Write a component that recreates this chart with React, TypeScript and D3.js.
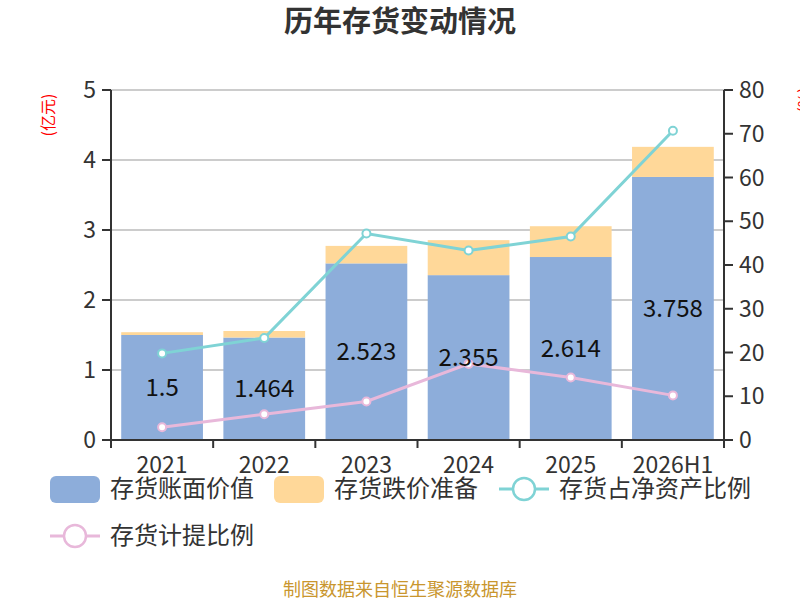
import React from "react";
import * as d3 from "d3";

const categories = ["2021", "2022", "2023", "2024", "2025", "2026H1"];
const bookValue = [1.5, 1.464, 2.523, 2.355, 2.614, 3.758];
const provision = [0.04, 0.093, 0.25, 0.5, 0.44, 0.43];
const netAssetRatio = [19.8, 23.3, 47.2, 43.3, 46.5, 70.7];
const provisionRatio = [2.9, 5.9, 8.8, 17.4, 14.3, 10.2];
const leftTicks = [0, 1, 2, 3, 4, 5];
const rightTicks = [0, 10, 20, 30, 40, 50, 60, 70, 80];

const FONT = "'Noto Sans CJK SC', 'Noto Sans', sans-serif";
const BLUE = "#8dadda";
const ORANGE = "#ffd899";
const TEAL = "#7fd3d5";
const PINK = "#e8b8da";
const TXT = "#333";

export default function App() {
  const W = 800, H = 600;
  const L = 111, R = 724, T = 90, B = 440;
  const x = d3.scaleBand<string>().domain(categories).range([L, R]).paddingInner(0.2).paddingOuter(0.1);
  const xc = (c: string) => (x(c) as number) + x.bandwidth() / 2;
  const band = (R - L) / categories.length;
  const yL = d3.scaleLinear().domain([0, 5]).range([B, T]);
  const yR = d3.scaleLinear().domain([0, 80]).range([B, T]);
  const lineGen = (vals: number[]) =>
    d3.line<number>().x((_, i) => xc(categories[i])).y((v) => yR(v))(vals) as string;

  return (
    <svg width={W} height={H} style={{ display: "block", position: "absolute", left: 0, top: 0 }} fontFamily={FONT}>
      <rect width={W} height={H} fill="#fff" />
      <text x={400} y={22} dy="0.35em" textAnchor="middle" fontSize={29} fontWeight="bold" fill={TXT}>历年存货变动情况</text>

      {/* grid */}
      {leftTicks.filter((t) => t > 0).map((t) => (
        <line key={t} x1={L} x2={R} y1={yL(t)} y2={yL(t)} stroke="#ccc" strokeWidth={2} />
      ))}

      {/* bars */}
      {categories.map((c, i) => (
        <g key={c}>
          <rect x={x(c)} y={yL(bookValue[i])} width={x.bandwidth()} height={B - yL(bookValue[i])} fill={BLUE} />
          <rect x={x(c)} y={yL(bookValue[i] + provision[i])} width={x.bandwidth()} height={yL(bookValue[i]) - yL(bookValue[i] + provision[i])} fill={ORANGE} />
        </g>
      ))}

      {/* lines */}
      <path d={lineGen(netAssetRatio)} fill="none" stroke={TEAL} strokeWidth={3} />
      <path d={lineGen(provisionRatio)} fill="none" stroke={PINK} strokeWidth={3} />
      {netAssetRatio.map((v, i) => (
        <circle key={"t" + i} cx={xc(categories[i])} cy={yR(v)} r={4} fill="#fff" stroke={TEAL} strokeWidth={2} />
      ))}
      {provisionRatio.map((v, i) => (
        <circle key={"p" + i} cx={xc(categories[i])} cy={yR(v)} r={4} fill="#fff" stroke={PINK} strokeWidth={2} />
      ))}

      {/* data labels */}
      {categories.map((c, i) => (
        <text key={"l" + c} x={xc(c)} y={(yL(bookValue[i]) + B) / 2} dy="0.35em" textAnchor="middle" fontSize={24} fill="#111">
          {String(bookValue[i])}
        </text>
      ))}

      {/* left axis */}
      <line x1={L} x2={L} y1={T} y2={B} stroke={TXT} strokeWidth={2} />
      {leftTicks.map((t) => (
        <g key={"lt" + t}>
          <line x1={L - 9} x2={L} y1={yL(t)} y2={yL(t)} stroke={TXT} strokeWidth={2} />
          <text x={L - 15} y={yL(t)} dy="0.35em" textAnchor="end" fontSize={23} fill={TXT}>{t}</text>
        </g>
      ))}
      <text transform={`translate(48,${115}) rotate(-90)`} textAnchor="middle" dy="0.35em" fontSize={16} fill="red">(亿元)</text>

      {/* right axis */}
      <line x1={R} x2={R} y1={T} y2={B} stroke={TXT} strokeWidth={2} />
      {rightTicks.map((t) => (
        <g key={"rt" + t}>
          <line x1={R} x2={R + 9} y1={yR(t)} y2={yR(t)} stroke={TXT} strokeWidth={2} />
          <text x={R + 15} y={yR(t)} dy="0.35em" textAnchor="start" fontSize={23} fill={TXT}>{t}</text>
        </g>
      ))}
      <text transform={`translate(804,${100}) rotate(-90)`} textAnchor="middle" dy="0.35em" fontSize={16} fill="red">(%)</text>

      {/* bottom axis */}
      <line x1={L} x2={R} y1={B} y2={B} stroke={TXT} strokeWidth={2} />
      {d3.range(categories.length + 1).map((k) => (
        <line key={"bt" + k} x1={L + k * band} x2={L + k * band} y1={B} y2={B + 8} stroke={TXT} strokeWidth={2} />
      ))}
      {categories.map((c) => (
        <text key={"x" + c} x={xc(c)} y={465} dy="0.35em" textAnchor="middle" fontSize={23} fill={TXT}>{c}</text>
      ))}

      {/* legend */}
      <rect x={50} y={476} width={50} height={27} rx={6} fill={BLUE} />
      <text x={110} y={489} dy="0.35em" fontSize={24} fill={TXT}>存货账面价值</text>
      <rect x={274} y={476} width={50} height={27} rx={6} fill={ORANGE} />
      <text x={334} y={489} dy="0.35em" fontSize={24} fill={TXT}>存货跌价准备</text>
      <line x1={499} x2={549} y1={489} y2={489} stroke={TEAL} strokeWidth={3} />
      <circle cx={524} cy={489} r={11} fill="#fff" stroke={TEAL} strokeWidth={2.5} />
      <text x={559} y={489} dy="0.35em" fontSize={24} fill={TXT}>存货占净资产比例</text>
      <line x1={50} x2={100} y1={536} y2={536} stroke={PINK} strokeWidth={3} />
      <circle cx={75} cy={536} r={11} fill="#fff" stroke={PINK} strokeWidth={2.5} />
      <text x={110} y={536} dy="0.35em" fontSize={24} fill={TXT}>存货计提比例</text>

      <text x={400} y={590} dy="0.35em" textAnchor="middle" fontSize={18} fill="#c9962e">制图数据来自恒生聚源数据库</text>
    </svg>
  );
}
